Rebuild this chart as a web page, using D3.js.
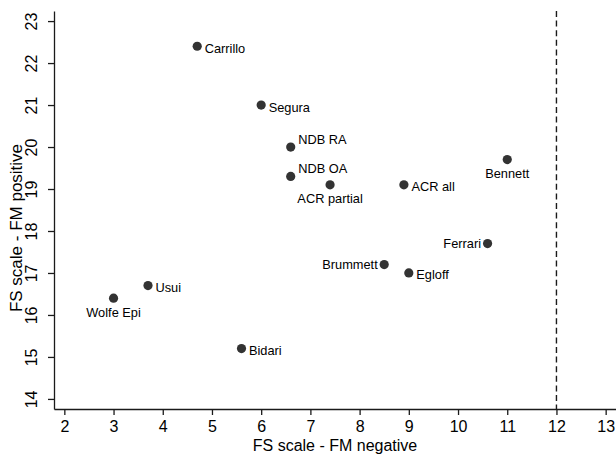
<!DOCTYPE html>
<html>
<head>
<meta charset="utf-8">
<script src="https://cdn.jsdelivr.net/npm/d3@7"></script>
<style>
  html, body { margin: 0; padding: 0; background: #fff; }
  svg { display: block; font-family: "Liberation Sans", Arial, Helvetica, sans-serif; }
</style>
</head>
<body>
<div id="chart"></div>
<script>
// FS scale: FM negativo vs FM positivo, un punto por estudio
const studies = ['Carrillo', 'Segura', 'NDB RA', 'NDB OA', 'ACR partial', 'ACR all', 'Bennett',
  'Ferrari', 'Brummett', 'Egloff', 'Usui', 'Wolfe Epi', 'Bidari'];
const fmNegative = [4.7, 6.0, 6.6, 6.6, 7.4, 8.9, 11.0, 10.6, 8.5, 9.0, 3.7, 3.0, 5.6];
const fmPositive = [22.4, 21.0, 20.0, 19.3, 19.1, 19.1, 19.7, 17.7, 17.2, 17.0, 16.7, 16.4, 15.2];
const xTicks = [2, 3, 4, 5, 6, 7, 8, 9, 10, 11, 12, 13];
const yTicks = [14, 15, 16, 17, 18, 19, 20, 21, 22, 23];
const cutoff = 12;

// donde va cada etiqueta respecto al punto
const labelSide = {
  'NDB RA': 'upright', 'NDB OA': 'upright',
  'ACR partial': 'below', 'Bennett': 'below', 'Wolfe Epi': 'below',
  'Ferrari': 'left', 'Brummett': 'left'
};

const width = 616, height = 455;
const margin = { top: 11, right: 0, bottom: 46, left: 54 };

const x = d3.scaleLinear().domain([1.79, 13.21]).range([margin.left, width - margin.right]);
const y = d3.scaleLinear().domain([13.76, 23.24]).range([height - margin.bottom, margin.top]);

const svg = d3.select('#chart').append('svg')
  .attr('width', width).attr('height', height);

const ink = '#1a1a1a';

// eje x
const gx = svg.append('g')
  .attr('transform', `translate(0,${height - margin.bottom})`)
  .call(d3.axisBottom(x).tickValues(xTicks).tickSize(6).tickPadding(6).tickSizeOuter(0));
gx.select('.domain').attr('stroke', ink).attr('stroke-width', 1.3);
gx.selectAll('.tick line').attr('stroke', ink).attr('stroke-width', 1.3);
gx.selectAll('.tick text').attr('fill', '#000').attr('font-size', '16px')
  .attr('font-family', '"Liberation Sans", Arial, sans-serif');

// eje y, etiquetas giradas como en Stata
const gy = svg.append('g')
  .attr('transform', `translate(${margin.left},0)`)
  .call(d3.axisLeft(y).tickValues(yTicks).tickSize(6).tickSizeOuter(0));
gy.select('.domain').attr('stroke', ink).attr('stroke-width', 1.3);
gy.selectAll('.tick line').attr('stroke', ink).attr('stroke-width', 1.3);
gy.selectAll('.tick text')
  .attr('x', null).attr('dy', null)
  .attr('transform', 'translate(-17,0) rotate(-90)')
  .attr('text-anchor', 'middle')
  .attr('fill', '#000').attr('font-size', '16px')
  .attr('font-family', '"Liberation Sans", Arial, sans-serif');

// linea de corte
svg.append('line')
  .attr('x1', x(cutoff)).attr('x2', x(cutoff))
  .attr('y1', margin.top).attr('y2', height - margin.bottom)
  .attr('stroke', ink).attr('stroke-width', 1.4)
  .attr('stroke-dasharray', '6,3.6');

// titulos
svg.append('text')
  .attr('x', (x(2) + x(13)) / 2).attr('y', 451)
  .attr('text-anchor', 'middle').attr('fill', '#000').attr('font-size', '16px')
  .text('FS scale - FM negative');

svg.append('text')
  .attr('transform', 'translate(21.5,228) rotate(-90)')
  .attr('text-anchor', 'middle').attr('fill', '#000').attr('font-size', '17px')
  .text('FS scale - FM positive');

const points = studies.map((s, i) => ({ name: s, neg: fmNegative[i], pos: fmPositive[i] }));

svg.selectAll('.pt').data(points).join('circle')
  .attr('class', 'pt')
  .attr('cx', d => x(d.neg)).attr('cy', d => y(d.pos))
  .attr('r', 4.6).attr('fill', '#333');

svg.selectAll('.lbl').data(points).join('text')
  .attr('class', 'lbl')
  .attr('font-size', '12.8px').attr('fill', '#000')
  .each(function (d) {
    const side = labelSide[d.name] || 'right';
    const t = d3.select(this);
    const px = x(d.neg), py = y(d.pos);
    if (side === 'below') {
      t.attr('x', px).attr('y', py + 18.5).attr('text-anchor', 'middle');
    } else if (side === 'left') {
      t.attr('x', px - 6.5).attr('y', py + 4.8).attr('text-anchor', 'end');
    } else if (side === 'upright') {
      t.attr('x', px + 7.5).attr('y', py - 3).attr('text-anchor', 'start');
    } else {
      t.attr('x', px + 7.5).attr('y', py + 6.5).attr('text-anchor', 'start');
    }
  })
  .text(d => d.name);
</script>
</body>
</html>
